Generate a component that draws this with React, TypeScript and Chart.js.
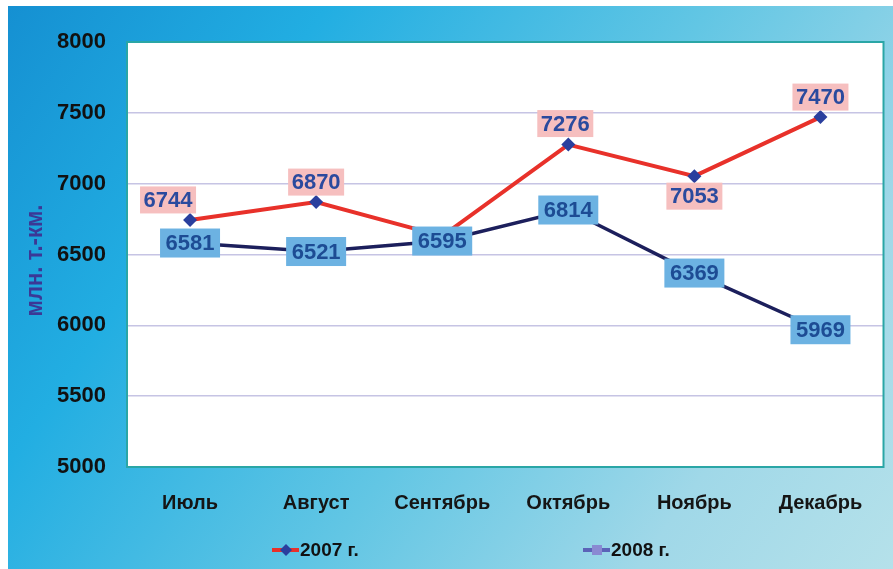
import { useEffect, useRef } from "react";
import { Chart, registerables } from "chart.js";
Chart.register(...registerables);

const months = ["Июль", "Август", "Сентябрь", "Октябрь", "Ноябрь", "Декабрь"];
const values2007 = [6744, 6870, 6630, 7276, 7053, 7470];
const values2008 = [6581, 6521, 6595, 6814, 6369, 5969];
const yTickValues = [5000, 5500, 6000, 6500, 7000, 7500, 8000];
const seriesNames = ["2007 г.", "2008 г."];
const yTitle = "млн. т.-км.";

const FONT = "'Liberation Sans', Arial, sans-serif";

// label placement per series (styling, not data)
const labelOffsets2007: (number[] | null)[] = [[-22, -20], [0, -20], null, [-3, -21], [0, 20], [0, -20]];
const labelOffsets2008: (number[] | null)[] = [[0, 0], [0, 0], [0, 0], [0, 0], [0, 0], [0, 0]];

const labelStyles = [
  { offsets: labelOffsets2007, bg: "#f6bfbf", color: "#2a4a9e", w: 56, h: 27 },
  { offsets: labelOffsets2008, bg: "#6cb2e2", color: "#1d4c94", w: 60, h: 29 },
];

const plotPlugin = {
  id: "plotDecor",
  beforeDraw(chart: any) {
    const { ctx, chartArea: a } = chart;
    ctx.save();
    ctx.fillStyle = "#ffffff";
    ctx.fillRect(a.left, a.top, a.right - a.left, a.bottom - a.top);
    ctx.restore();
  },
  afterDatasetsDraw(chart: any) {
    const { ctx } = chart;
    ctx.save();
    ctx.font = `bold 22px ${FONT}`;
    ctx.textAlign = "center";
    ctx.textBaseline = "middle";
    chart.data.datasets.forEach((ds: any, di: number) => {
      const st = labelStyles[di];
      const meta = chart.getDatasetMeta(di);
      meta.data.forEach((pt: any, i: number) => {
        const off = st.offsets[i];
        if (!off) return;
        const cx = pt.x + off[0];
        const cy = pt.y + off[1];
        ctx.fillStyle = st.bg;
        ctx.fillRect(cx - st.w / 2, cy - st.h / 2, st.w, st.h);
        ctx.fillStyle = st.color;
        ctx.fillText(String(ds.data[i]), cx, cy + 1);
      });
    });
    ctx.restore();
  },
  afterDraw(chart: any) {
    const { ctx, chartArea: a } = chart;
    ctx.save();
    ctx.strokeStyle = "#2aa6a6";
    ctx.lineWidth = 2;
    ctx.strokeRect(a.left, a.top, a.right - a.left, a.bottom - a.top);
    ctx.translate(27, (a.top + a.bottom) / 2 + 6);
    ctx.rotate(-Math.PI / 2);
    ctx.scale(1.3, 1.45);
    ctx.fillStyle = "#3b3896";
    ctx.font = `bold 17px ${FONT}`;
    ctx.textAlign = "center";
    ctx.textBaseline = "middle";
    ctx.fillText(yTitle, 0, 0);
    ctx.restore();

    ctx.save();
    const ly = 544;
    const items = [
      { x: 264, line: "#e8312a", marker: "#2a3f9e", style: "diamond", text: seriesNames[0] },
      { x: 575, line: "#5b63b8", marker: "#8a8ad2", style: "square", text: seriesNames[1] },
    ];
    items.forEach((it) => {
      ctx.strokeStyle = it.line;
      ctx.lineWidth = 4;
      ctx.beginPath();
      ctx.moveTo(it.x, ly);
      ctx.lineTo(it.x + 27, ly);
      ctx.stroke();
      ctx.fillStyle = it.marker;
      const mx = it.x + 14;
      if (it.style === "diamond") {
        ctx.beginPath();
        ctx.moveTo(mx, ly - 6);
        ctx.lineTo(mx + 6, ly);
        ctx.lineTo(mx, ly + 6);
        ctx.lineTo(mx - 6, ly);
        ctx.closePath();
        ctx.fill();
      } else {
        ctx.fillRect(mx - 5, ly - 5, 10, 10);
      }
      ctx.fillStyle = "#111111";
      ctx.font = `bold 19px ${FONT}`;
      ctx.textAlign = "left";
      ctx.textBaseline = "middle";
      ctx.fillText(it.text, it.x + 28, ly + 1);
    });
    ctx.restore();
  },
};

export default function App() {
  const ref = useRef<HTMLCanvasElement>(null);
  useEffect(() => {
    if (!ref.current) return;
    const chart = new Chart(ref.current, {
      type: "line",
      data: {
        labels: months,
        datasets: [
          {
            label: seriesNames[0],
            data: values2007,
            borderColor: "#e8312a",
            borderWidth: 4,
            pointStyle: "rectRot",
            pointRadius: 7,
            pointBackgroundColor: "#2a3f9e",
            pointBorderColor: "#2a3f9e",
            pointBorderWidth: 0,
            tension: 0,
            order: 0,
          },
          {
            label: seriesNames[1],
            data: values2008,
            borderColor: "#1c1f5c",
            borderWidth: 3.5,
            pointStyle: "rect",
            pointRadius: 6,
            pointBackgroundColor: "#8a8ad2",
            pointBorderColor: "#8a8ad2",
            tension: 0,
            order: 1,
          },
        ],
      },
      options: {
        animation: false,
        responsive: false,
        devicePixelRatio: 1,
        layout: { padding: { top: 36, right: -5.5, left: 0, bottom: 0 } },
        plugins: { legend: { display: false }, tooltip: { enabled: false } },
        scales: {
          x: {
            offset: true,
            grid: { display: false, drawTicks: false },
            border: { display: false },
            ticks: {
              color: "#151515",
              font: { family: FONT, size: 20, weight: "bold" },
              padding: 24,
              maxRotation: 0,
              autoSkip: false,
            },
            afterFit(scale: any) {
              scale.height = 102;
            },
          },
          y: {
            min: 5000,
            max: 8000,
            afterBuildTicks(scale: any) {
              scale.ticks = yTickValues.map((v) => ({ value: v }));
            },
            grid: { color: "#c6c4e4", lineWidth: 1.5, drawTicks: false },
            border: { display: false },
            ticks: {
              color: "#111111",
              font: { family: FONT, size: 22, weight: "bold" },
              padding: 21,
              callback: (v: any) => String(v),
            },
            afterFit(scale: any) {
              scale.width = 119;
            },
          },
        },
      },
      plugins: [plotPlugin],
    });
    return () => chart.destroy();
  }, []);

  return (
    <div
      style={{
        position: "fixed",
        left: 8,
        top: 6,
        width: 885,
        height: 563,
        background:
          "linear-gradient(125deg, #1590d2 0%, #22aee2 25%, #62c6e4 55%, #a0d8e8 80%, #b5e1ea 100%)",
      }}
    >
      <canvas ref={ref} width={885} height={563} style={{ display: "block" }} />
    </div>
  );
}
